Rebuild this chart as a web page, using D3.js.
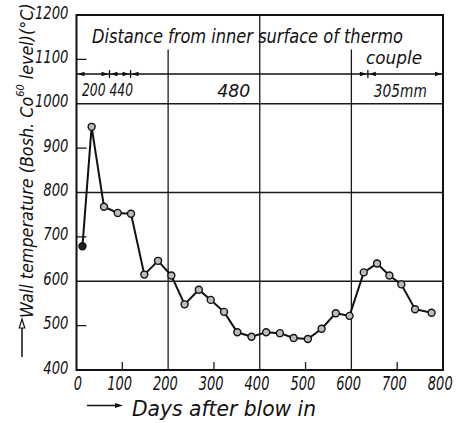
<!DOCTYPE html>
<html>
<head>
<meta charset="utf-8">
<script src="https://cdn.jsdelivr.net/npm/d3@7"></script>
<style>
  body { margin: 0; background: #fff; }
  svg text { font-family: "DejaVu Sans", sans-serif; font-style: italic; fill: #111; }
</style>
</head>
<body>
<svg id="chart"></svg>
<script>
// days after blow in / wall temperature readings
const days  = [13, 33, 60, 90, 119, 148, 178, 207, 236, 267, 293, 322, 351, 382, 414, 444, 474, 505, 535, 566, 596, 627, 656, 683, 709, 739, 775];
const temps = [679, 948, 768, 754, 752, 615, 646, 613, 548, 581, 558, 531, 485, 475, 485, 483, 472, 470, 493, 528, 522, 620, 640, 613, 593, 537, 529];

const xTicks = [0, 100, 200, 300, 400, 500, 600, 700, 800];
const yTicks = [400, 500, 600, 700, 800, 900, 1000, 1100, 1200];
const xMinor = [100, 300, 500, 700];
const yMinor = [500, 700, 900, 1100];
const xGrid = [200, 400, 600];
const yGrid = [600, 800, 1000];

// thermocouple depth zones (day boundaries) and their labels
const zoneBounds = [0, 72, 118, 636, 800];
const zoneLabels = ["200 440", "480", "305mm"];

const W = 457, H = 423;
const svg = d3.select("#chart").attr("width", W).attr("height", H);

const x = d3.scaleLinear().domain([0, 800]).range([76.5, 443]);
const y = d3.scaleLinear().domain([400, 1200]).range([370, 15]);

// squeeze a text element horizontally to a given width
function fit(sel, width) {
  sel.attr("textLength", width).attr("lengthAdjust", "spacingAndGlyphs");
}

// grid lines
const g = svg.append("g").attr("stroke", "#1a1a1a").attr("stroke-width", 1.3);
yGrid.forEach(v => {
  g.append("line").attr("x1", x(0)).attr("x2", x(800)).attr("y1", y(v)).attr("y2", y(v));
});
xGrid.forEach(v => {
  const top = v === 400 ? 1200 : 1122;
  g.append("line").attr("x1", x(v)).attr("x2", x(v)).attr("y1", y(top)).attr("y2", y(400));
});

// minor ticks
xMinor.forEach(v => {
  g.append("line").attr("x1", x(v)).attr("x2", x(v)).attr("y1", y(400)).attr("y2", y(400) - 8);
});
yMinor.forEach(v => {
  g.append("line").attr("x1", x(0)).attr("x2", x(0) + 10).attr("y1", y(v)).attr("y2", y(v));
});

// frame
svg.append("rect")
  .attr("x", x(0)).attr("y", y(1200))
  .attr("width", x(800) - x(0)).attr("height", y(400) - y(1200))
  .attr("fill", "none").attr("stroke", "#111").attr("stroke-width", 2);

// tick labels
const yAxis = svg.append("g")
  .attr("transform", `translate(${x(0)},0)`)
  .call(d3.axisLeft(y).tickValues(yTicks).tickFormat(d3.format("d")).tickSize(0).tickPadding(8));
yAxis.select(".domain").remove();
yAxis.selectAll("text")
  .attr("font-size", 17).attr("dy", "0.18em")
  .each(function (d) { fit(d3.select(this), String(d).length * 8.4); });

const xAxis = svg.append("g")
  .attr("transform", `translate(0,${y(400)})`)
  .call(d3.axisBottom(x).tickValues(xTicks).tickFormat(d3.format("d")).tickSize(0).tickPadding(6));
xAxis.select(".domain").remove();
xAxis.selectAll("text")
  .attr("font-size", 20)
  .attr("x", d => d === 0 ? 1.5 : -5)
  .attr("transform", "scale(0.65,1)");

// depth annotation
const dimY = y(1067);
const ann = svg.append("g").attr("stroke", "#111").attr("stroke-width", 1.3);
ann.append("line").attr("x1", x(0)).attr("x2", x(800)).attr("y1", dimY).attr("y2", dimY);
zoneBounds.forEach((b, i) => {
  if (i > 0 && i < zoneBounds.length - 1) {
    ann.append("line").attr("x1", x(b)).attr("x2", x(b)).attr("y1", dimY - 4).attr("y2", dimY + 4);
  }
});
// arrowheads pointing to each boundary
zoneBounds.forEach((b, i) => {
  const px = x(b);
  if (i < zoneBounds.length - 1) {
    ann.append("path").attr("d", `M${px + 1},${dimY} l7,-2.2 l0,4.4 z`).attr("fill", "#111").attr("stroke", "none");
  }
  if (i > 0) {
    ann.append("path").attr("d", `M${px - 1},${dimY} l-7,-2.2 l0,4.4 z`).attr("fill", "#111").attr("stroke", "none");
  }
});

svg.append("text").attr("x", 92).attr("y", 43).attr("font-size", 19)
  .text("Distance from inner surface of thermo").call(fit, 311);
svg.append("text").attr("x", 366).attr("y", 64).attr("font-size", 18)
  .text("couple").call(fit, 56);

svg.append("text").attr("x", x(12)).attr("y", 96).attr("font-size", 17)
  .text(zoneLabels[0]).call(fit, 51);
svg.append("text").attr("x", x(307)).attr("y", 97).attr("font-size", 17)
  .text(zoneLabels[1]).call(fit, 33);
svg.append("text").attr("x", x(649)).attr("y", 97).attr("font-size", 17)
  .text(zoneLabels[2]).call(fit, 53);

// data line
const pts = days.map((d, i) => [d, temps[i]]);
svg.append("path")
  .datum(pts)
  .attr("fill", "none").attr("stroke", "#111").attr("stroke-width", 2)
  .attr("d", d3.line().x(d => x(d[0])).y(d => y(d[1])));

svg.selectAll("circle.pt")
  .data(pts)
  .enter()
  .append("circle")
  .attr("class", "pt")
  .attr("cx", d => x(d[0])).attr("cy", d => y(d[1]))
  .attr("r", 3.5)
  .attr("fill", (d, i) => i === 0 ? "#222" : "#bbb")
  .attr("stroke", "#111").attr("stroke-width", 1.4);

// x title with arrow
svg.append("line").attr("x1", 87).attr("x2", 118).attr("y1", 405.5).attr("y2", 405.5)
  .attr("stroke", "#111").attr("stroke-width", 1.5);
svg.append("path").attr("d", "M123,405.5 l-8,-2.5 l0,5 z").attr("fill", "#111");
svg.append("text").attr("x", 132).attr("y", 416).attr("font-size", 22)
  .text("Days after blow in").call(fit, 184);

// y title with arrow
svg.append("line").attr("x1", 22).attr("x2", 22).attr("y1", 357).attr("y2", 326)
  .attr("stroke", "#111").attr("stroke-width", 1.5);
svg.append("path").attr("d", "M22,319 l-2.8,9 l5.6,0 z").attr("fill", "#fff").attr("stroke", "#111").attr("stroke-width", 1.2);

const yt = svg.append("text")
  .attr("font-size", 18);
yt.append("tspan").text("Wall temperature (Bosh. Co");
yt.append("tspan").attr("font-size", 11).attr("dy", -9).text("60");
yt.append("tspan").attr("dy", 9).text(" level)(°C)");
const len = yt.node().getComputedTextLength();
const sx = 315 / len;
yt.attr("transform", `translate(33,318) rotate(-90) scale(${sx},1)`);
</script>
</body>
</html>
